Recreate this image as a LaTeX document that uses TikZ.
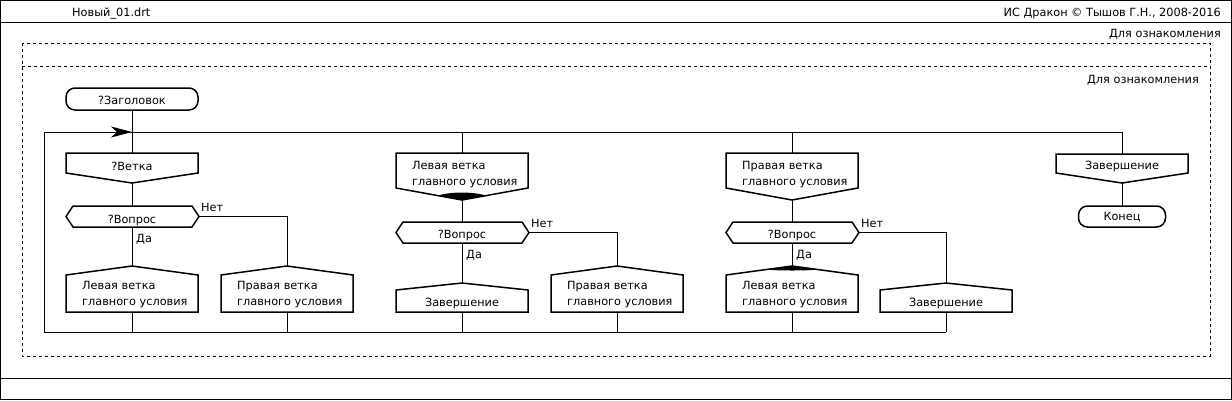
\documentclass[tikz,border=0pt]{standalone}
\usepackage{fontspec}
\setmainfont{DejaVu Sans}
\usetikzlibrary{arrows.meta}

\begin{document}
\begin{tikzpicture}[x=1pt, y=-1pt,
    frame/.style={line width=1pt},
    link/.style={line width=1pt},
    dashbox/.style={line width=1pt, dash pattern=on 3pt off 3pt},
    icon/.style={draw, line width=1.5pt, fill=white},
    lbl/.style={inner sep=0pt, font=\fontsize{11.3}{16}\selectfont, text height=8.5pt, text depth=2.5pt},
    txt/.style={inner sep=0pt, font=\fontsize{11.3}{16}\selectfont, align=left},
    term/.style={icon, rounded corners=9pt, minimum height=22pt}]
    \useasboundingbox (0,0) rectangle (1232,400);

    % Cadre
    \draw[frame] (0.5,0.5) rectangle (1231.5,399.5);
    \draw[frame] (0,22) -- (1232,22);
    \draw[frame] (0,378) -- (1232,378);
    \node[lbl, anchor=west] (file) at (72,13) {Новый\_01.drt};
    \node[lbl, anchor=east] (copy) at (1221,13.5) {ИС Дракон © Тышов Г.Н., 2008-2016};
    \node[lbl, anchor=east] (note1) at (1221,34) {Для ознакомления};

    % Zones en pointille
    \draw[dashbox] (22,43) rectangle (1210,356);
    \draw[dashbox] (22,66) -- (1210,66);
    \node[lbl, anchor=east] (note2) at (1199,80) {Для ознакомления};

    % Points du cycle
    \coordinate (vA) at (132,132);
    \coordinate (vC) at (462,132);
    \coordinate (vE) at (792,132);
    \coordinate (vG) at (1122,132);
    \coordinate (wL) at (44,132);
    \coordinate (bL) at (44,332);
    \coordinate (bA) at (132,332);
    \coordinate (bB) at (287,332);
    \coordinate (bC) at (462,332);
    \coordinate (bD) at (617,332);
    \coordinate (bE) at (792,332);
    \coordinate (bF) at (946,332);

    % Sommets des icones
    \coordinate (br1n) at (132,153);  \coordinate (br1s) at (132,183);
    \coordinate (q1n) at (132,206);   \coordinate (q1s) at (132,227);  \coordinate (q1e) at (199,216.5);
    \coordinate (yAn) at (132,266);   \coordinate (yAs) at (132,312);
    \coordinate (nBn) at (287,266);   \coordinate (nBs) at (287,312);
    \coordinate (br2n) at (462,153);  \coordinate (br2s) at (462,200);
    \coordinate (q2n) at (462,222);   \coordinate (q2s) at (462,243);  \coordinate (q2e) at (529,232.5);
    \coordinate (yCn) at (462,283);   \coordinate (yCs) at (462,312);
    \coordinate (nDn) at (617,266);   \coordinate (nDs) at (617,312);
    \coordinate (br3n) at (792,153);  \coordinate (br3s) at (792,200);
    \coordinate (q3n) at (792,222);   \coordinate (q3s) at (792,243);  \coordinate (q3e) at (859,232.5);
    \coordinate (yEn) at (792,266);   \coordinate (yEs) at (792,312);
    \coordinate (nFn) at (946,283);   \coordinate (nFs) at (946,312);
    \coordinate (br4n) at (1122,154); \coordinate (br4s) at (1122,183);

    % Liaisons
    \node[term, minimum width=132pt] (title) at (132,99) {};
    \node[lbl] (titletxt) at (132,101) {?Заголовок};
    \draw[link] (title) -- (vA);
    \draw[link] (wL) -- (vG);
    \draw[link, -{Stealth[length=21pt, width=11pt, inset=6pt]}] (wL) -- (vA);
    \draw[link] (bF) -- (bL) -- (wL);
    \draw[link] (vA) -- (br1n) (br1s) -- (q1n) (q1s) -- (yAn) (yAs) -- (bA);
    \draw[link] (q1e) -| (nBn) (nBs) -- (bB);
    \draw[link] (vC) -- (br2n) (br2s) -- (q2n) (q2s) -- (yCn) (yCs) -- (bC);
    \draw[link] (q2e) -| (nDn) (nDs) -- (bD);
    \draw[link] (vE) -- (br3n) (br3s) -- (q3n) (q3s) -- (yEn) (yEs) -- (bE);
    \draw[link] (q3e) -| (nFn) (nFs) -- (bF);

    % Colonne 1
    \draw[icon] (66,153) -- (198,153) -- (198,173) -- (br1s) -- (66,173) -- cycle;
    \node[lbl] (br1) at (132,167) {?Ветка};
    \draw[icon] (73,206) -- (192,206) -- (q1e) -- (192,227) -- (73,227) -- (66,216.5) -- cycle;
    \node[lbl] (q1) at (132,220) {?Вопрос};
    \node[lbl, anchor=west] (yes1) at (136,239) {Да};
    \node[lbl, anchor=west] (no1) at (201,208) {Нет};
    \draw[icon] (yAn) -- (198,275) -- (198,312) -- (66,312) -- (66,275) -- cycle;
    \node[txt, anchor=west] (yA) at (82,295) {Левая ветка\\главного условия};
    \draw[icon] (nBn) -- (353,275) -- (353,312) -- (221,312) -- (221,275) -- cycle;
    \node[txt, anchor=west] (nB) at (237,295) {Правая ветка\\главного условия};

    % Colonne 2
    \draw[icon] (396,153) -- (528,153) -- (528,188) -- (br2s) -- (396,188) -- cycle;
    \fill (438,195.6) .. controls (451,191.5) and (473,191.5) .. (486,195.6) -- (br2s) -- cycle;
    \node[txt, anchor=west] (br2) at (412,175) {Левая ветка\\главного условия};
    \draw[icon] (403,222) -- (522,222) -- (q2e) -- (522,243) -- (403,243) -- (396,232.5) -- cycle;
    \node[lbl] (q2) at (462,235) {?Вопрос};
    \node[lbl, anchor=west] (yes2) at (466,255) {Да};
    \node[lbl, anchor=west] (no2) at (531,224) {Нет};
    \draw[icon] (yCn) -- (528,290) -- (528,312) -- (396,312) -- (396,290) -- cycle;
    \node[lbl] (yC) at (462,303) {Завершение};
    \draw[icon] (nDn) -- (683,275) -- (683,312) -- (551,312) -- (551,275) -- cycle;
    \node[txt, anchor=west] (nD) at (567,295) {Правая ветка\\главного условия};

    % Colonne 3
    \draw[icon] (726,153) -- (858,153) -- (858,188) -- (br3s) -- (726,188) -- cycle;
    \node[txt, anchor=west] (br3) at (742,175) {Правая ветка\\главного условия};
    \draw[icon] (733,222) -- (852,222) -- (q3e) -- (852,243) -- (733,243) -- (726,232.5) -- cycle;
    \node[lbl] (q3) at (792,235) {?Вопрос};
    \draw[icon] (yEn) -- (858,275) -- (858,312) -- (726,312) -- (726,275) -- cycle;
    \fill (766,269.6) -- (yEn) -- (818,269.6) .. controls (804,270.8) and (780,270.8) .. cycle;
    \node[txt, anchor=west] (yE) at (742,295) {Левая ветка\\главного условия};
    \node[lbl, anchor=west] (yes3) at (796,255) {Да};
    \node[lbl, anchor=west] (no3) at (861,224) {Нет};
    \draw[icon] (nFn) -- (1012,290) -- (1012,312) -- (880,312) -- (880,290) -- cycle;
    \node[lbl] (nF) at (946,303) {Завершение};

    % Colonne 4
    \draw[link] (vG) -- (br4n) (br4s) -- (1122,206);
    \draw[icon] (1056,154) -- (1188,154) -- (1188,173) -- (br4s) -- (1056,173) -- cycle;
    \node[lbl] (br4) at (1122,166) {Завершение};
    \node[term, minimum width=87pt, minimum height=21pt] (fin) at (1122,216.5) {};
    \node[lbl] (fintxt) at (1122,217) {Конец};
\end{tikzpicture}
\end{document}
